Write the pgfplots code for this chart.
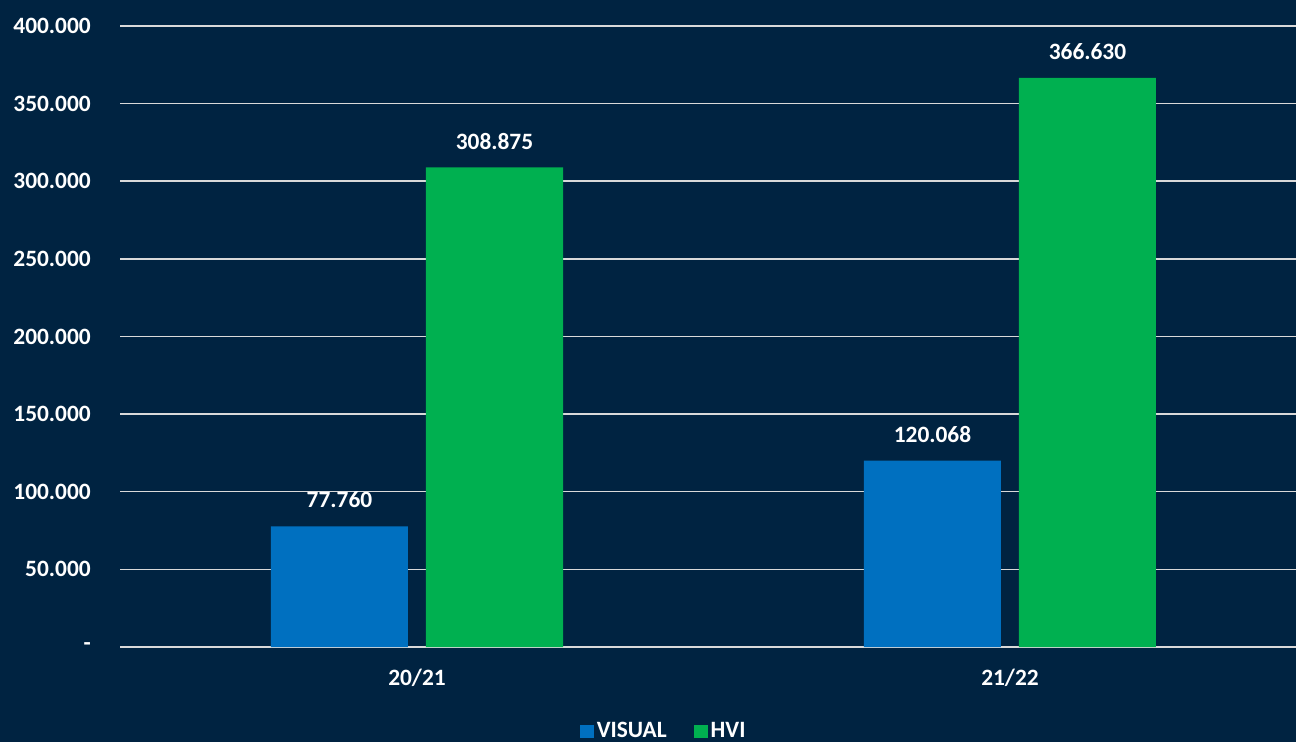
\documentclass[border=0pt]{standalone}
\usepackage{pgfplots}
\pgfplotsset{compat=1.18}
\usepackage{fontspec}
\setmainfont{Carlito}
\definecolor{bg}{HTML}{002341}
\definecolor{visblue}{HTML}{0070C0}
\definecolor{hvigreen}{HTML}{00B050}
\definecolor{gridc}{HTML}{D9D9D9}
\newcommand\bigfont{\bfseries\fontsize{23.4bp}{28bp}\selectfont}
\begin{document}
\begin{tikzpicture}
\path[use as bounding box, fill=bg] (-120.5bp,-95bp) rectangle (1175.5bp,647bp);
\begin{axis}[
  at={(0,0)}, anchor=south west,
  scale only axis, width=1175.5bp, height=621bp,
  xmin=-0.5, xmax=1.4823, ymin=0, ymax=400000,
  clip=false, ybar,
  scaled y ticks=false,
  axis line style={draw=none},
  tick style={draw=none},
  major tick length=0pt,
  ymajorgrids, grid style={gridc, line width=1.5bp},
  xtick={0,1}, xticklabels={20/21,21/22},
  ytick={0,50000,100000,150000,200000,250000,300000,350000,400000},
  yticklabels={{-\hspace{9bp}},50.000,100.000,150.000,200.000,250.000,300.000,350.000,400.000},
  tick label style={font=\bigfont, text=white},
  yticklabel style={anchor=east, inner sep=0pt, xshift=-29.5bp},
  xticklabel style={anchor=north, inner sep=0pt, yshift=-22bp},
  point meta=explicit symbolic,
  nodes near coords,
  nodes near coords style={text=white, font=\bigfont, anchor=south, inner sep=0pt, yshift=18bp},
  legend columns=-1,
  legend image code/.code={\fill[#1] (0bp,-6.5bp) rectangle (14bp,6.5bp);},
  legend style={at={(0.391,-0.1353)}, anchor=west, draw=none, fill=none,
    text=white, font=\bigfont, inner sep=0pt,
    nodes={inner sep=2.5bp},
    /tikz/every even column/.append style={column sep=25bp}},
]
\addplot[fill=visblue, draw=none, bar width=137bp, bar shift=-77.5bp]
  coordinates {(0,77760) [77.760] (1,120068) [120.068]};
\addplot[fill=hvigreen, draw=none, bar width=137bp, bar shift=77.5bp]
  coordinates {(0,308875) [308.875] (1,366630) [366.630]};
\legend{VISUAL,HVI}
\end{axis}
\end{tikzpicture}
\end{document}
